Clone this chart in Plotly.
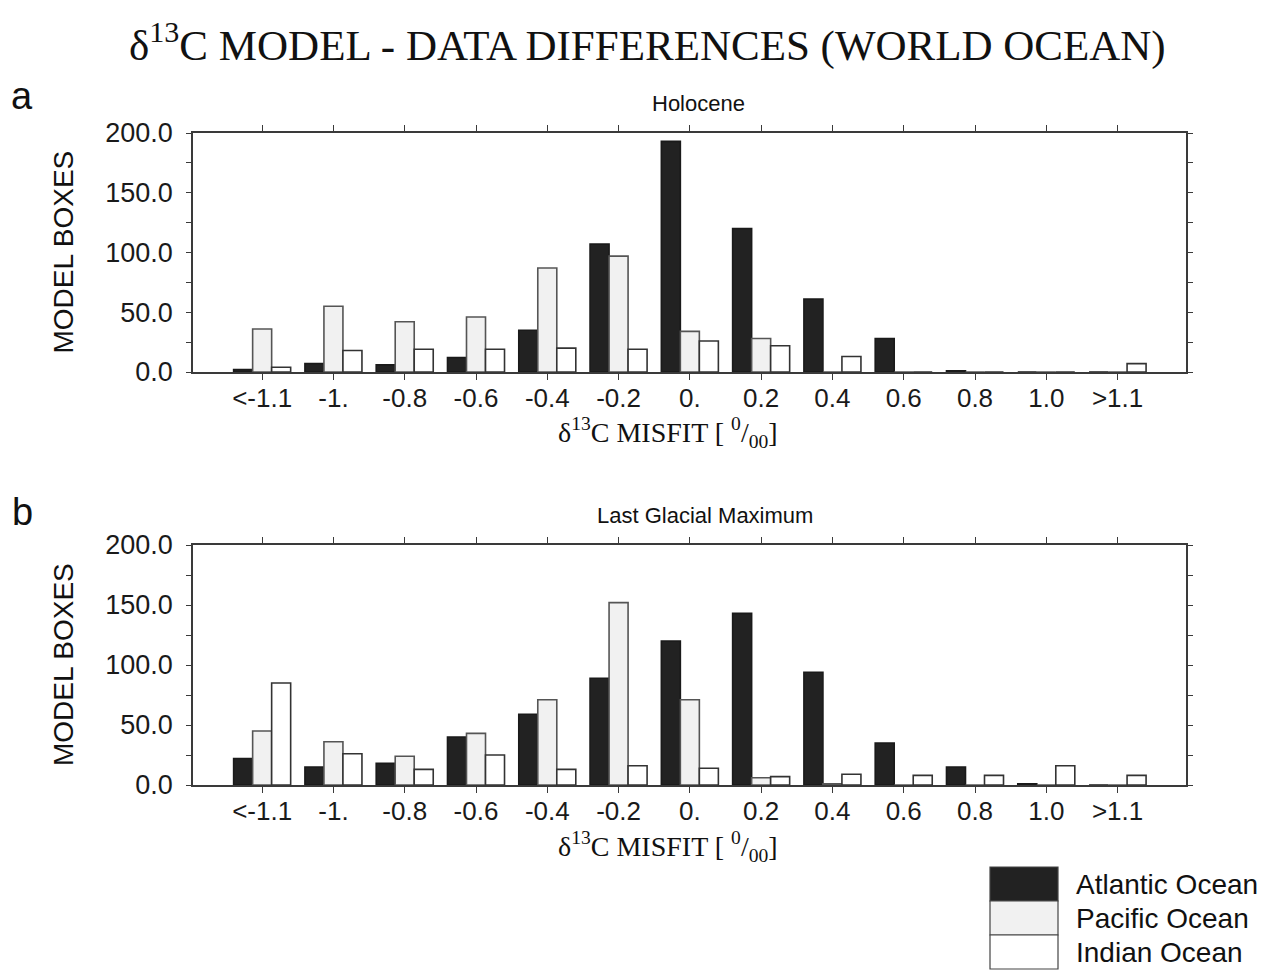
import html
import plotly.graph_objects as go
from plotly.subplots import make_subplots

# Misfit classes (per mil)
misfit_bins = ["<-1.1", "-1.", "-0.8", "-0.6", "-0.4", "-0.2", "0.",
               "0.2", "0.4", "0.6", "0.8", "1.0", ">1.1"]

# Holocene: number of model boxes per misfit class
holo_atlantic = [2, 7, 6, 12, 35, 107, 193, 120, 61, 28, 1, 0, 0]
holo_pacific = [36, 55, 42, 46, 87, 97, 34, 28, 0, 0, 0, 0, 0]
holo_indian = [4, 18, 19, 19, 20, 19, 26, 22, 13, 0, 0, 0, 7]

# Last Glacial Maximum
lgm_atlantic = [22, 15, 18, 40, 59, 89, 120, 143, 94, 35, 15, 1, 0]
lgm_pacific = [45, 36, 24, 43, 71, 152, 71, 6, 1, 0, 0, 0, 0]
lgm_indian = [85, 26, 13, 25, 13, 16, 14, 7, 9, 8, 8, 16, 8]

ocean_names = ["Atlantic Ocean", "Pacific Ocean", "Indian Ocean"]
ocean_fill = ["#222222", "#f1f1f1", "#ffffff"]
ocean_line = ["#1a1a1a", "#555555", "#333333"]

W, H = 1268, 971
SANS = "Liberation Sans, Arial, sans-serif"
SERIF = "Liberation Serif, Times New Roman, serif"


def px(x):
    return x / W


def py(y):
    return 1 - y / H


fig = make_subplots(rows=2, cols=1)

panels = [
    (1, [holo_atlantic, holo_pacific, holo_indian]),
    (2, [lgm_atlantic, lgm_pacific, lgm_indian]),
]
for row, series in panels:
    for name, vals, fill, line in zip(ocean_names, series, ocean_fill, ocean_line):
        fig.add_trace(
            go.Bar(
                x=misfit_bins, y=vals, name=name, showlegend=False,
                marker=dict(color=fill, line=dict(color=line, width=1.6)),
            ),
            row=row, col=1,
        )

# plot areas in pixels: (top, bottom)
areas = {1: (133, 372), 2: (545, 785)}
x_left, x_right = 193, 1186

axis_common = dict(
    showline=True, linecolor="#3a3a3a", linewidth=1.5, mirror="ticks",
    ticks="outside", tickcolor="#3a3a3a", showgrid=False, zeroline=False,
    automargin=False,
    tickfont=dict(family=SANS, size=26, color="#1a1a1a"),
)

for row, (top, bottom) in areas.items():
    fig.update_xaxes(
        axis_common, row=row, col=1,
        domain=[px(x_left), px(x_right)],
        type="category", range=[-0.97, 12.96],
        tickvals=misfit_bins, ticktext=[html.escape(b) for b in misfit_bins],
        ticklen=6, ticklabelstandoff=-4,
    )
    fig.update_yaxes(
        axis_common, row=row, col=1,
        domain=[py(bottom), py(top)], range=[0, 200],
        tickmode="linear", tick0=0, dtick=50, tickformat=".1f",
        ticklen=5, ticklabelstandoff=8,
        tickfont=dict(family=SANS, size=27, color="#1a1a1a"),
        minor=dict(dtick=25, ticks="outside", ticklen=5, tickcolor="#3a3a3a"),
    )

annotations = [
    dict(x=px(647), y=py(42),
         text="δ<sup>13</sup>C MODEL - DATA DIFFERENCES (WORLD OCEAN)",
         font=dict(family=SERIF, size=43, color="#111111")),
    dict(x=px(22), y=py(96), text="a", font=dict(family=SANS, size=38, color="#111111")),
    dict(x=px(22), y=py(512), text="b", font=dict(family=SANS, size=38, color="#111111")),
    dict(x=px(698), y=py(103), text="Holocene", font=dict(family=SANS, size=22, color="#111111")),
    dict(x=px(705), y=py(515), text="Last Glacial Maximum",
         font=dict(family=SANS, size=22, color="#111111")),
]
misfit_title = "δ<sup>13</sup>C MISFIT [ <sup>0</sup>/<sub>00</sub>]"
for (top, bottom), xt_y in zip(areas.values(), [432, 846]):
    annotations.append(dict(x=px(668), y=py(xt_y), text=misfit_title,
                            font=dict(family=SERIF, size=28, color="#111111")))
    annotations.append(dict(x=px(63), y=py((top + bottom) / 2), text="MODEL BOXES",
                            textangle=-90, font=dict(family=SANS, size=28, color="#111111")))
for a in annotations:
    a.update(xref="paper", yref="paper", showarrow=False, xanchor="center", yanchor="middle")

# Legend drawn as stacked swatches with labels
shapes = []
box_top, box_h = 867, 34
for i, (name, fill, line) in enumerate(zip(ocean_names, ocean_fill, ocean_line)):
    y0 = box_top + i * box_h
    shapes.append(dict(type="rect", xref="paper", yref="paper",
                       x0=px(990), x1=px(1058), y0=py(y0 + box_h), y1=py(y0),
                       fillcolor=fill, line=dict(color="#444444", width=1.2)))
    annotations.append(dict(x=px(1074), y=py(y0 + box_h / 2), text=name,
                            xref="paper", yref="paper", showarrow=False,
                            xanchor="left", yanchor="middle",
                            font=dict(family=SANS, size=28, color="#111111")))

fig.update_layout(
    width=W, height=H,
    margin=dict(l=0, r=0, t=0, b=0),
    paper_bgcolor="white", plot_bgcolor="white",
    barmode="group", bargap=0.2, bargroupgap=0,
    annotations=annotations, shapes=shapes,
)

fig.write_html("out.html")
